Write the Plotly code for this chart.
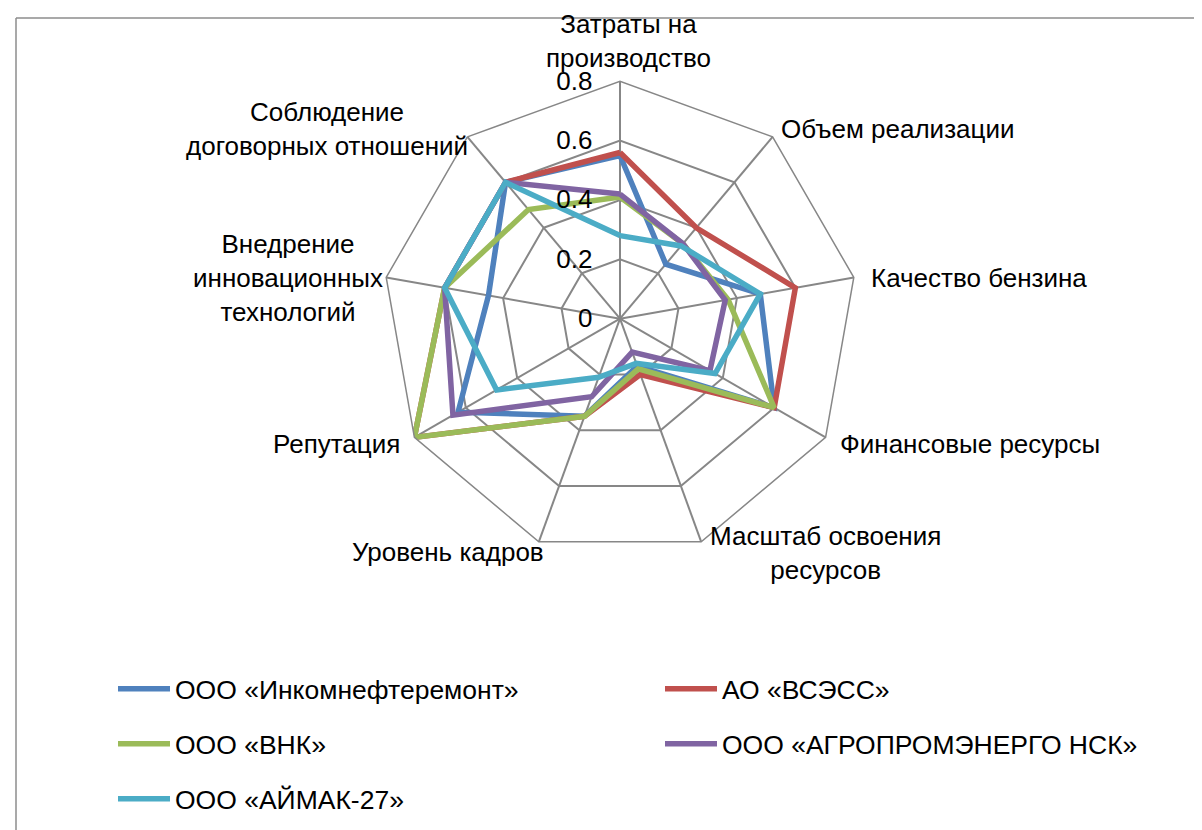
import plotly.graph_objects as go

categories = [
    "Затраты на<br>производство",
    "Объем реализации",
    "Качество бензина",
    "Финансовые ресурсы",
    "Масштаб освоения<br>ресурсов",
    "Уровень кадров",
    "Репутация",
    "Внедрение<br>инновационных<br>технологий",
    "Соблюдение<br>договорных отношений",
]

series_names = [
    "ООО «Инкомнефтеремонт»",
    "АО «ВСЭСС»",
    "ООО «ВНК»",
    "ООО «АГРОПРОМЭНЕРГО НСК»",
    "ООО «АЙМАК-27»",
]

incom = [0.55, 0.24, 0.48, 0.60, 0.17, 0.35, 0.63, 0.45, 0.60]
vsess = [0.56, 0.40, 0.60, 0.60, 0.20, 0.35, 0.80, 0.60, 0.60]
vnk = [0.41, 0.33, 0.37, 0.60, 0.18, 0.35, 0.80, 0.60, 0.48]
agro = [0.42, 0.33, 0.36, 0.35, 0.12, 0.28, 0.65, 0.60, 0.60]
aimak = [0.28, 0.32, 0.48, 0.37, 0.16, 0.21, 0.48, 0.60, 0.60]

radial_ticks = [0, 0.2, 0.4, 0.6, 0.8]
radial_ticktext = ["0", "0.2", "0.4", "0.6", "0.8"]

# label centres (pixels) for category captions
label_pos = [(620, 33), (889, 121), (971, 270), (962, 436), (818, 545),
             (440, 544), (328, 436), (280, 270), (319, 121)]

colors = ["#4F81BD", "#C0504D", "#9BBB59", "#8064A2", "#4BACC6"]
legend_ids = ["legend", "legend2", "legend3", "legend4", "legend5"]
legend_px = [(105, 681), (652, 681), (105, 736), (652, 736), (105, 791)]

FONT = "Liberation Sans, Arial, sans-serif"
FS = 26
FS_LEG = 26.5

fig = go.Figure()
for name, vals, col, lg in zip(series_names, [incom, vsess, vnk, agro, aimak], colors, legend_ids):
    fig.add_trace(go.Scatterpolar(
        r=vals + vals[:1],
        theta=categories + categories[:1],
        mode="lines",
        name=name,
        line=dict(color=col, width=5.5),
        legend=lg,
        showlegend=True,
    ))

W, H = 1202, 830
cx, cy, R = 612, 310.7, 237.4

legends = {}
for lg, (lx, ly) in zip(legend_ids, legend_px):
    legends[lg] = dict(
        x=lx / W, y=1 - ly / H,
        orientation="h",
        font=dict(family=FONT, size=FS_LEG, color="black"),
        bgcolor="rgba(0,0,0,0)",
        xanchor="left",
        yanchor="middle",
        itemwidth=52,
        visible=True,
    )

annotations = []
for cat, (px, py) in zip(categories, label_pos):
    annotations.append(dict(
        text=cat, x=px / W, y=1 - py / H, xref="paper", yref="paper",
        xanchor="center", yanchor="middle", showarrow=False,
        font=dict(family=FONT, size=FS, color="black"),
    ))

fig.update_layout(
    width=W,
    height=H,
    showlegend=True,
    margin=dict(l=0, r=0, t=0, b=0),
    paper_bgcolor="white",
    plot_bgcolor="white",
    font=dict(family=FONT, size=FS, color="black"),
    annotations=annotations,
    polar=dict(
        domain=dict(x=[(cx - R) / W, (cx + R) / W], y=[1 - (cy + R) / H, 1 - (cy - R) / H]),
        gridshape="linear",
        bgcolor="white",
        angularaxis=dict(
            direction="clockwise",
            rotation=90,
            showline=True,
            linecolor="#878787",
            linewidth=1.5,
            gridcolor="#878787",
            gridwidth=1.5,
            ticks="",
            showticklabels=False,
        ),
        radialaxis=dict(
            range=[0, 0.8],
            tickvals=radial_ticks,
            ticktext=radial_ticktext,
            angle=90,
            tickangle=90,
            side="counterclockwise",
            showline=False,
            gridcolor="#878787",
            gridwidth=1.5,
            ticks="outside",
            ticklen=18,
            tickcolor="rgba(0,0,0,0)",
            tickfont=dict(family=FONT, size=FS, color="black"),
        ),
    ),
    shapes=[
        dict(type="line", xref="paper", yref="paper", x0=8 / W, x1=1.01, y0=1 - 10 / H, y1=1 - 10 / H,
             line=dict(color="#8c8c8c", width=1.5)),
        dict(type="line", xref="paper", yref="paper", x0=8 / W, x1=8 / W, y0=1 - 10 / H, y1=-0.01,
             line=dict(color="#8c8c8c", width=1.5)),
    ],
    **legends,
)

fig.write_html("out.html")
